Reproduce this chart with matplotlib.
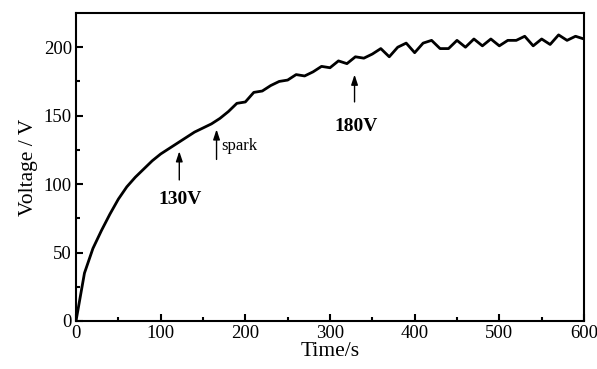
import numpy as np
import matplotlib.pyplot as plt

plt.rcParams['font.family'] = ['Liberation Serif', 'DejaVu Serif']

# time (s) and voltage (V)
time_s = np.arange(0, 601, 10)
voltage = [0, 35, 53, 66, 78, 89, 98, 105, 111, 117, 122, 126, 130, 134, 138, 141, 144, 148, 153, 159,
           160, 167, 168, 172, 175, 176, 180, 179, 182, 186, 185, 190, 188, 193, 192, 195, 199, 193, 200, 203,
           196, 203, 205, 199, 199, 205, 200, 206, 201, 206, 201, 205, 205, 208, 201, 206, 202, 209, 205, 208,
           206]

fig = plt.figure(figsize=(5.97, 3.69), dpi=100)
ax = fig.add_axes([0.1273, 0.1301, 0.8509, 0.8347])
ax.plot(time_s, voltage, color='black', lw=2)

ax.set_xlim(0, 600)
ax.set_ylim(0, 225)
ax.set_xticks([0, 100, 200, 300, 400, 500, 600])
ax.set_xticks(np.arange(50, 600, 100), minor=True)
ax.set_yticks([0, 50, 100, 150, 200])
ax.set_yticks([25, 75, 125, 175], minor=True)
ax.tick_params(direction='in', which='major', length=5, width=1.5, labelsize=13.5, pad=3)
ax.tick_params(direction='in', which='minor', length=3, width=1.5)
for s in ax.spines.values():
    s.set_linewidth(1.5)
ax.set_xlabel('Time/s', fontsize=15.5, labelpad=0)
ax.set_ylabel('Voltage / V', fontsize=15.5, labelpad=4)

# arrows with labels
arrow = dict(arrowstyle='-|>,head_length=0.6,head_width=0.2', color='black', lw=1, mutation_scale=10)
ax.annotate('', xy=(122, 126), xytext=(122, 101), arrowprops=arrow)
ax.text(123, 89, '130V', ha='center', va='center', fontsize=14, fontweight='bold')
ax.annotate('', xy=(166, 142), xytext=(166, 116), arrowprops=arrow)
ax.text(171, 128, 'spark', ha='left', va='center', fontsize=12)
ax.annotate('', xy=(329, 182), xytext=(329, 158), arrowprops=arrow)
ax.text(331, 142, '180V', ha='center', va='center', fontsize=14, fontweight='bold')

fig.savefig('out.png', dpi=100)
